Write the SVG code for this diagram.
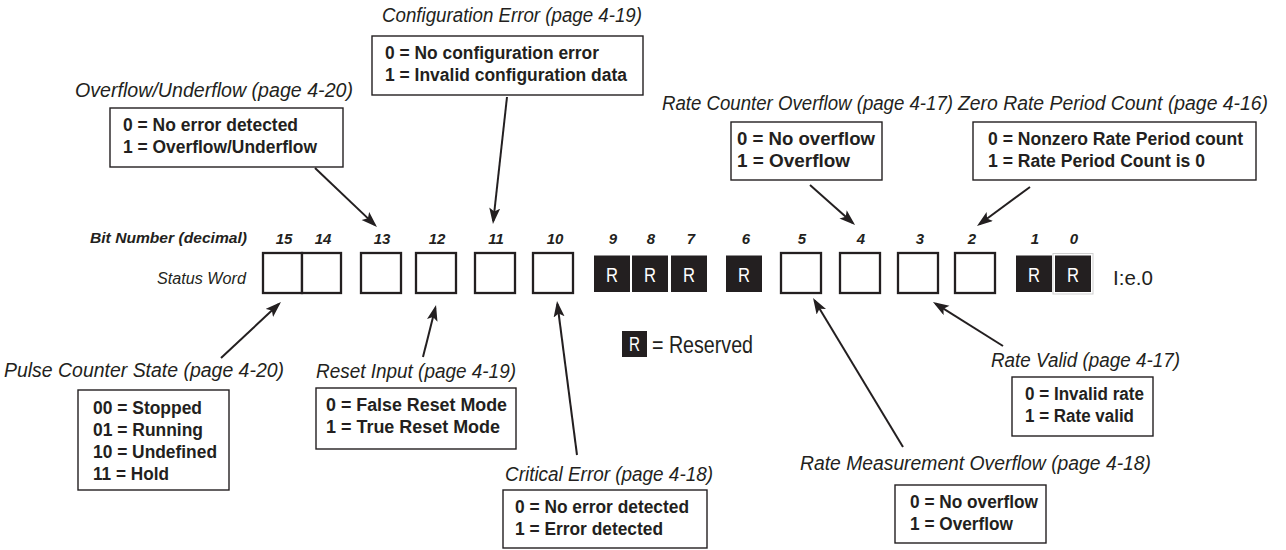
<svg xmlns="http://www.w3.org/2000/svg" width="1286" height="550" viewBox="0 0 1286 550">
<style>
  .title{font-family:"Liberation Sans",Arial,sans-serif;font-style:italic;font-size:20px;fill:#231f20}
  .item{font-family:"Liberation Sans",Arial,sans-serif;font-weight:bold;font-size:17.5px;fill:#231f20}
  .bitn{font-family:"Liberation Sans",Arial,sans-serif;font-weight:bold;font-style:italic;font-size:15px;fill:#231f20;text-anchor:middle}
  .lbl{font-family:"Liberation Sans",Arial,sans-serif;fill:#231f20}
  .frame{fill:#fff;stroke:#231f20;stroke-width:1.4}
  .bit{fill:#fff;stroke:#231f20;stroke-width:2.3}
  .res{fill:#231f20}
  .rl{font-family:"Liberation Sans",Arial,sans-serif;font-size:21px;fill:#fff;text-anchor:middle}
  .conn line{stroke:#231f20;stroke-width:2}
</style>
<defs>
  <marker id="ah" markerUnits="userSpaceOnUse" markerWidth="18" markerHeight="12" refX="13" refY="5.5" orient="auto">
    <path d="M0,0 L16,5.5 L0,11 L3.5,5.5 Z" fill="#231f20"/>
  </marker>
</defs>
<rect width="1286" height="550" fill="#fff"/>

<!-- bit row labels -->
<g id="bit-header">
  <text class="lbl" x="90" y="243" font-size="15" font-weight="bold" font-style="italic" textLength="157" lengthAdjust="spacingAndGlyphs">Bit Number (decimal)</text>
  <text class="lbl" x="157" y="284" font-size="16" font-style="italic" textLength="89" lengthAdjust="spacingAndGlyphs">Status Word</text>
  <text class="bitn" x="284" y="244">15</text>
  <text class="bitn" x="323" y="244">14</text>
  <text class="bitn" x="382" y="244">13</text>
  <text class="bitn" x="437" y="244">12</text>
  <text class="bitn" x="496" y="244">11</text>
  <text class="bitn" x="555" y="244">10</text>
  <text class="bitn" x="613" y="244">9</text>
  <text class="bitn" x="651" y="244">8</text>
  <text class="bitn" x="691" y="244">7</text>
  <text class="bitn" x="746" y="244">6</text>
  <text class="bitn" x="802" y="244">5</text>
  <text class="bitn" x="861" y="244">4</text>
  <text class="bitn" x="920" y="244">3</text>
  <text class="bitn" x="972" y="244">2</text>
  <text class="bitn" x="1035" y="244">1</text>
  <text class="bitn" x="1074" y="244">0</text>
</g>

<!-- status word bits -->
<g id="bit15"><rect class="bit" x="263" y="253" width="39" height="40"/></g>
<g id="bit14"><rect class="bit" x="302" y="253" width="39" height="40"/></g>
<g id="bit13"><rect class="bit" x="361" y="253" width="40" height="40"/></g>
<g id="bit12"><rect class="bit" x="416" y="253" width="40" height="40"/></g>
<g id="bit11"><rect class="bit" x="475" y="253" width="40" height="40"/></g>
<g id="bit10"><rect class="bit" x="533" y="253" width="40" height="40"/></g>
<g id="bit9"><rect class="res" x="594" y="255.5" width="36" height="36.5"/><text class="rl" x="612" y="282" textLength="12" lengthAdjust="spacingAndGlyphs">R</text></g>
<g id="bit8"><rect class="res" x="632" y="255.5" width="36" height="36.5"/><text class="rl" x="650" y="282" textLength="12" lengthAdjust="spacingAndGlyphs">R</text></g>
<g id="bit7"><rect class="res" x="671" y="255.5" width="36" height="36.5"/><text class="rl" x="689" y="282" textLength="12" lengthAdjust="spacingAndGlyphs">R</text></g>
<g id="bit6"><rect class="res" x="726" y="255.5" width="36" height="36.5"/><text class="rl" x="744" y="282" textLength="12" lengthAdjust="spacingAndGlyphs">R</text></g>
<g id="bit5"><rect class="bit" x="781" y="253" width="40" height="40"/></g>
<g id="bit4"><rect class="bit" x="840" y="253" width="40" height="40"/></g>
<g id="bit3"><rect class="bit" x="898" y="253" width="40" height="40"/></g>
<g id="bit2"><rect class="bit" x="955" y="253" width="40" height="40"/></g>
<g id="bit1"><rect class="res" x="1016" y="255.5" width="36" height="36.5"/><text class="rl" x="1034" y="282" textLength="12" lengthAdjust="spacingAndGlyphs">R</text></g>
<g id="bit0"><rect x="1053" y="253.5" width="40" height="40.5" fill="none" stroke="#cfcfcf" stroke-width="1"/><rect class="res" x="1055" y="255.5" width="36" height="36.5"/><text class="rl" x="1073" y="282" textLength="12" lengthAdjust="spacingAndGlyphs">R</text></g>
<g id="word-address"><text class="lbl" x="1113" y="285" font-size="20" textLength="40" lengthAdjust="spacingAndGlyphs">I:e.0</text></g>

<!-- legend -->
<g id="legend">
  <rect class="res" x="622" y="331" width="25" height="26"/>
  <text class="rl" x="634.5" y="351" textLength="11" lengthAdjust="spacingAndGlyphs">R</text>
  <text class="lbl" x="652" y="353" font-size="23" textLength="101" lengthAdjust="spacingAndGlyphs">= Reserved</text>
</g>

<!-- annotation nodes -->
<g id="config-error">
  <text class="title" x="382" y="22" textLength="260" lengthAdjust="spacingAndGlyphs">Configuration Error (page 4-19)</text>
  <rect class="frame" x="372" y="36" width="271" height="59"/>
  <text class="item" x="385" y="59" textLength="214" lengthAdjust="spacingAndGlyphs">0 = No configuration error</text>
  <text class="item" x="385" y="80.5" textLength="242" lengthAdjust="spacingAndGlyphs">1 = Invalid configuration data</text>
</g>

<g id="overflow-underflow">
  <text class="title" x="75" y="97" textLength="278" lengthAdjust="spacingAndGlyphs">Overflow/Underflow (page 4-20)</text>
  <rect class="frame" x="110" y="108" width="233" height="59"/>
  <text class="item" x="123" y="131" textLength="175" lengthAdjust="spacingAndGlyphs">0 = No error detected</text>
  <text class="item" x="123" y="152.5" textLength="194" lengthAdjust="spacingAndGlyphs">1 = Overflow/Underflow</text>
</g>

<g id="rate-counter-overflow">
  <text class="title" x="662" y="110" textLength="291" lengthAdjust="spacingAndGlyphs">Rate Counter Overflow (page 4-17)</text>
  <rect class="frame" x="731" y="122" width="151" height="58"/>
  <text class="item" x="737" y="145" textLength="138" lengthAdjust="spacingAndGlyphs">0 = No overflow</text>
  <text class="item" x="737" y="166.5" textLength="113" lengthAdjust="spacingAndGlyphs">1 = Overflow</text>
</g>

<g id="zero-rate-period">
  <text class="title" x="958" y="110" textLength="310" lengthAdjust="spacingAndGlyphs">Zero Rate Period Count (page 4-16)</text>
  <rect class="frame" x="973" y="122" width="283" height="58"/>
  <text class="item" x="988" y="145" textLength="255" lengthAdjust="spacingAndGlyphs">0 = Nonzero Rate Period count</text>
  <text class="item" x="988" y="166.5" textLength="217" lengthAdjust="spacingAndGlyphs">1 = Rate Period Count is 0</text>
</g>

<g id="pulse-counter-state">
  <text class="title" x="4" y="377" textLength="280" lengthAdjust="spacingAndGlyphs">Pulse Counter State (page 4-20)</text>
  <rect class="frame" x="78" y="390" width="151" height="100"/>
  <text class="item" x="93" y="414" textLength="109" lengthAdjust="spacingAndGlyphs">00 = Stopped</text>
  <text class="item" x="93" y="436" textLength="110" lengthAdjust="spacingAndGlyphs">01 = Running</text>
  <text class="item" x="93" y="458" textLength="124" lengthAdjust="spacingAndGlyphs">10 = Undefined</text>
  <text class="item" x="93" y="480" textLength="76" lengthAdjust="spacingAndGlyphs">11 = Hold</text>
</g>

<g id="reset-input">
  <text class="title" x="316" y="378" textLength="200" lengthAdjust="spacingAndGlyphs">Reset Input (page 4-19)</text>
  <rect class="frame" x="316" y="388" width="200" height="61"/>
  <text class="item" x="326" y="411" textLength="181" lengthAdjust="spacingAndGlyphs">0 = False Reset Mode</text>
  <text class="item" x="326" y="432.5" textLength="174" lengthAdjust="spacingAndGlyphs">1 = True Reset Mode</text>
</g>

<g id="critical-error">
  <text class="title" x="505" y="481" textLength="208" lengthAdjust="spacingAndGlyphs">Critical Error (page 4-18)</text>
  <rect class="frame" x="503" y="490" width="204" height="58"/>
  <text class="item" x="515" y="513" textLength="174" lengthAdjust="spacingAndGlyphs">0 = No error detected</text>
  <text class="item" x="515" y="534.5" textLength="148" lengthAdjust="spacingAndGlyphs">1 = Error detected</text>
</g>

<g id="rate-measurement-overflow">
  <text class="title" x="800" y="470" textLength="351" lengthAdjust="spacingAndGlyphs">Rate Measurement Overflow (page 4-18)</text>
  <rect class="frame" x="895" y="485" width="151" height="58"/>
  <text class="item" x="910" y="508" textLength="128" lengthAdjust="spacingAndGlyphs">0 = No overflow</text>
  <text class="item" x="910" y="529.5" textLength="103" lengthAdjust="spacingAndGlyphs">1 = Overflow</text>
</g>

<g id="rate-valid">
  <text class="title" x="991" y="367" textLength="189" lengthAdjust="spacingAndGlyphs">Rate Valid (page 4-17)</text>
  <rect class="frame" x="1012" y="377" width="141" height="59"/>
  <text class="item" x="1025" y="400" textLength="119" lengthAdjust="spacingAndGlyphs">0 = Invalid rate</text>
  <text class="item" x="1025" y="421.5" textLength="109" lengthAdjust="spacingAndGlyphs">1 = Rate valid</text>
</g>

<!-- connectors -->
<g id="connectors" class="conn">
  <line x1="315" y1="168" x2="374.8" y2="224.9" marker-end="url(#ah)"/>
  <line x1="507" y1="97" x2="493.3" y2="221" marker-end="url(#ah)"/>
  <line x1="810" y1="185" x2="852.8" y2="223" marker-end="url(#ah)"/>
  <line x1="1030" y1="187" x2="979.4" y2="224.2" marker-end="url(#ah)"/>
  <line x1="221" y1="358" x2="278.8" y2="304" marker-end="url(#ah)"/>
  <line x1="423" y1="357" x2="435.3" y2="307.9" marker-end="url(#ah)"/>
  <line x1="577" y1="455" x2="557.4" y2="304" marker-end="url(#ah)"/>
  <line x1="903" y1="447" x2="814.6" y2="300.6" marker-end="url(#ah)"/>
  <line x1="1003" y1="346" x2="935.5" y2="303.6" marker-end="url(#ah)"/>
</g>
</svg>
